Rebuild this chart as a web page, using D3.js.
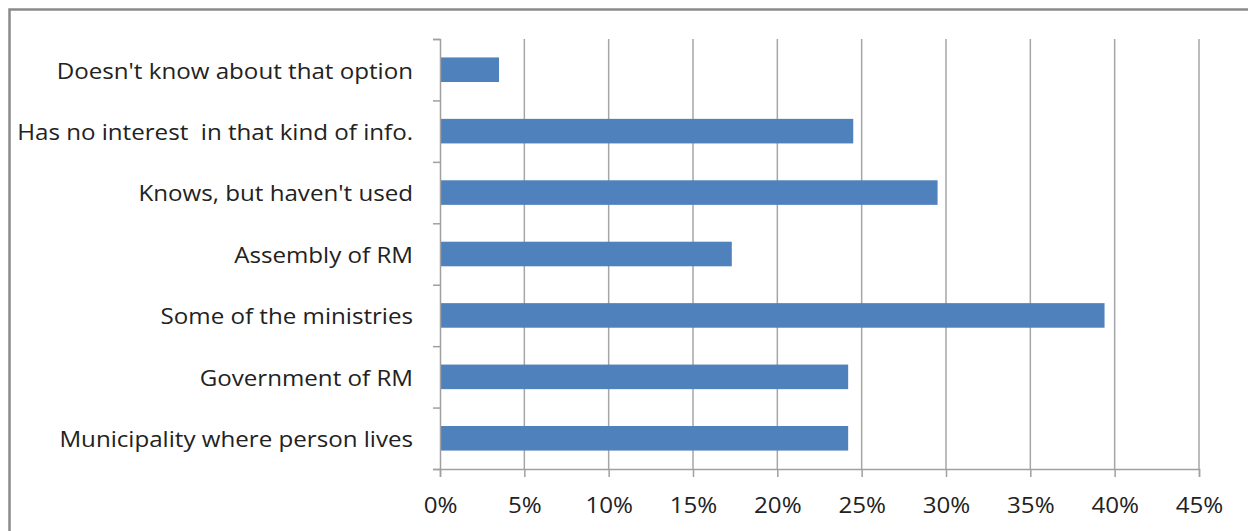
<!DOCTYPE html>
<html>
<head>
<meta charset="utf-8">
<script src="https://d3js.org/d3.v7.min.js"></script>
<style>
html,body{margin:0;padding:0;background:#fff;}
svg{display:block;}
text{font-family:"Open Sans","Lato",sans-serif;}
</style>
</head>
<body>
<svg id="chart" width="1248" height="531"></svg>
<script>
const categories = [
  "Doesn't know about that option",
  "Has no interest  in that kind of info.",
  "Knows, but haven't used",
  "Assembly of RM",
  "Some of the ministries",
  "Government of RM",
  "Municipality where person lives"
];
const values = [3.5, 24.5, 29.5, 17.3, 39.4, 24.2, 24.2];
const xTicks = [0, 5, 10, 15, 20, 25, 30, 35, 40, 45];

const svg = d3.select("#chart");
const mLeft = 440, mRight = 1199, mTop = 39, mBottom = 469;
const sx = 1.15;

// outer border
svg.append("rect")
  .attr("x", 9.5).attr("y", 9.5)
  .attr("width", 1260).attr("height", 540)
  .attr("fill", "#fff")
  .attr("stroke", "#8a8a8a").attr("stroke-width", 2.5);

const x = d3.scaleLinear().domain([0, 45]).range([mLeft, mRight]);
const y = d3.scaleBand().domain(categories).range([mTop, mBottom])
  .paddingInner(0.6).paddingOuter(0.3);
const yb = d3.scaleLinear().domain([0, categories.length]).range([mTop, mBottom]);

// gridlines
svg.append("g").selectAll("line")
  .data(xTicks.slice(1))
  .join("line")
  .attr("x1", d => x(d)).attr("x2", d => x(d))
  .attr("y1", mTop).attr("y2", mBottom)
  .attr("stroke", "#a6a6a6").attr("stroke-width", 1.5);

// bars
svg.append("g").selectAll("rect")
  .data(categories)
  .join("rect")
  .attr("x", x(0))
  .attr("y", d => y(d))
  .attr("width", (d, i) => x(values[i]) - x(0))
  .attr("height", y.bandwidth())
  .attr("fill", "#4f81bd");

// x axis
const gx = svg.append("g").attr("transform", `translate(0,${mBottom})`)
  .call(d3.axisBottom(x).tickValues(xTicks).tickSize(8).tickPadding(21)
    .tickFormat(d => d + "%"));
gx.select(".domain").attr("stroke", "#a0a0a0").attr("stroke-width", 1.5);
gx.selectAll(".tick line").attr("stroke", "#a0a0a0").attr("stroke-width", 1.5);
gx.selectAll(".tick text").attr("font-size", 21).attr("fill", "#222")
  .attr("transform", `scale(${sx},1)`);

// y axis ticks at band boundaries
const gy = svg.append("g").attr("transform", `translate(${mLeft},0)`)
  .call(d3.axisLeft(yb).tickValues(d3.range(categories.length + 1)).tickSize(7).tickFormat(""));
gy.select(".domain").attr("stroke", "#a0a0a0").attr("stroke-width", 1.5);
gy.selectAll(".tick line").attr("stroke", "#a0a0a0").attr("stroke-width", 1.5);

// y labels
const gl = svg.append("g").attr("transform", `translate(${mLeft},0)`)
  .call(d3.axisLeft(y).tickSize(0).tickPadding(27));
gl.select(".domain").remove();
gl.selectAll(".tick text").attr("font-size", 21).attr("fill", "#222")
  .attr("x", -27 / sx).attr("dy", "0.42em")
  .attr("transform", `scale(${sx},1)`)
  .style("white-space", "pre").attr("xml:space", "preserve");
</script>
</body>
</html>
